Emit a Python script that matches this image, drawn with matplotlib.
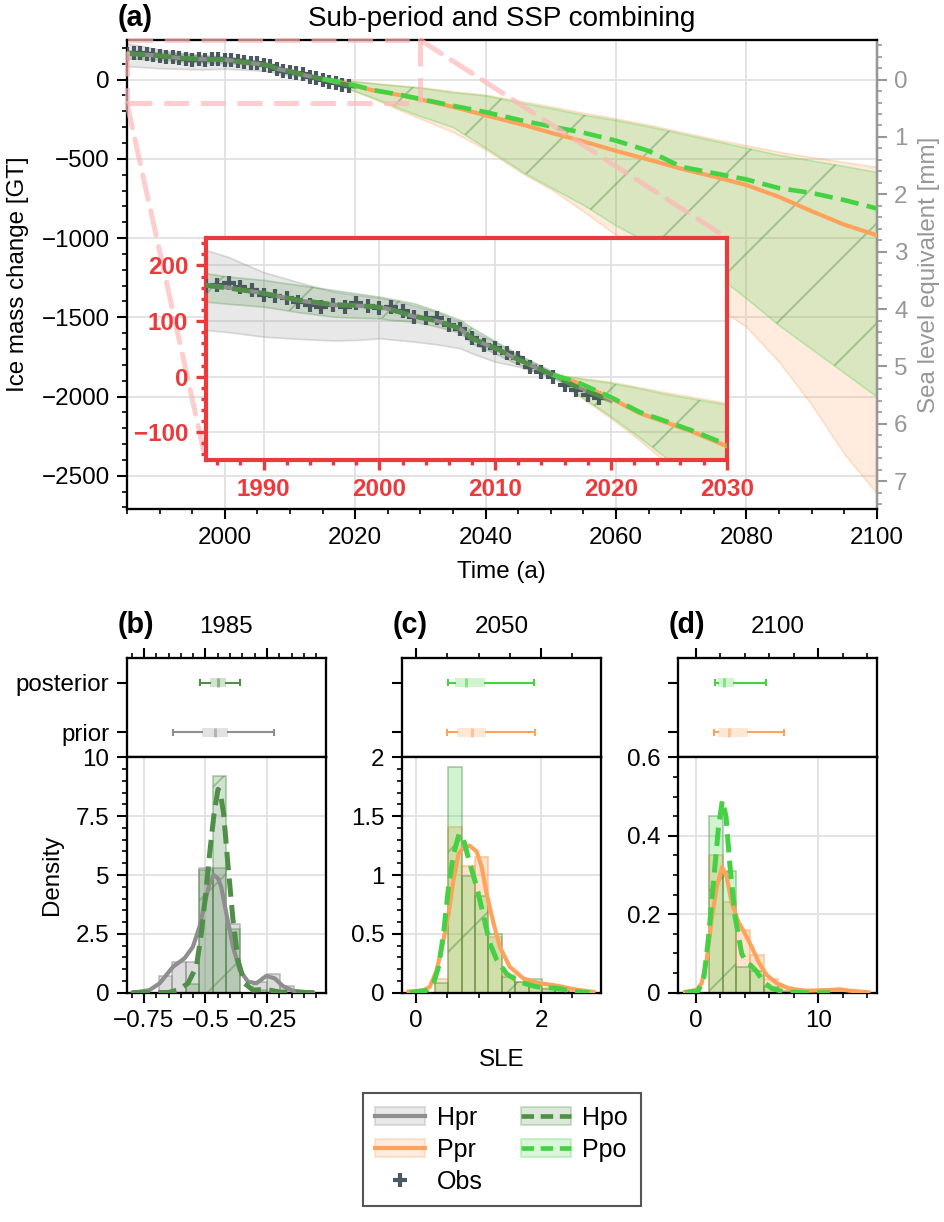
import numpy as np
import matplotlib
matplotlib.use("Agg")
import matplotlib.pyplot as plt
from matplotlib.colors import to_rgba
from matplotlib.lines import Line2D
from matplotlib.patches import Patch, Rectangle, ConnectionPatch
from matplotlib.ticker import MultipleLocator, FuncFormatter

# ── data: ice mass change time series [GT] ────────────────────
obs_years = list(range(1985, 2020))
obs_gt = [163, 165, 168, 161, 155, 147, 145, 141, 134, 129, 126, 129, 125,
          132, 128, 123, 126, 119, 108, 105, 105, 93, 86, 69, 57, 51, 42,
          33, 18, 9, 0, -15, -24, -33, -39]

years_hist = [1985, 1987, 1990, 1993, 1996, 1998, 2000, 2001, 2003, 2005,
              2007, 2008, 2010, 2012, 2015, 2017, 2020]
hpr_med = [165, 160, 150, 137, 129, 128, 125, 121, 108, 100, 86, 68, 51, 30, 3, -17, -42]
hpr_hi = [228, 215, 188, 170, 153, 147, 142, 138, 128, 116, 98, 82, 62, 38, 6, -14, -38]
hpr_lo = [84, 80, 72, 68, 65, 66, 69, 67, 63, 58, 51, 42, 27, 18, 0, -20, -46]
hpo_med = [164, 159, 150, 138, 130, 128, 125, 120, 109, 100, 87, 69, 52, 31, 3, -18, -43]
hpo_hi = [186, 180, 174, 165, 156, 150, 144, 140, 132, 118, 102, 88, 64, 40, 9, -10, -36]
hpo_lo = [135, 131, 126, 116, 108, 106, 105, 102, 99, 90, 79, 60, 42, 22, -3, -22, -46]

years_proj = [2015, 2017, 2020, 2022.5, 2025, 2027, 2030, 2035, 2040, 2046,
              2050, 2055, 2060, 2065, 2070, 2075, 2080, 2085, 2090, 2095, 2100]
ppr_med = [3, -10, -39, -66, -84, -99, -125, -172, -225, -288, -335, -390,
           -450, -505, -562, -612, -665, -740, -830, -915, -982]
ppr_hi = [3, -2, -10, -20, -30, -37, -48, -74, -95, -140, -170, -210, -245,
          -285, -330, -375, -415, -455, -490, -520, -551]
ppr_lo = [3, -32, -75, -115, -158, -195, -245, -330, -440, -600, -690, -830,
          -980, -1100, -1260, -1420, -1560, -1780, -2050, -2360, -2610]
ppo_med = [3, -9, -37, -64, -82, -97, -122, -165, -205, -262, -295, -335,
           -385, -450, -550, -590, -630, -685, -715, -760, -813]
ppo_hi = [3, -3, -12, -22, -33, -40, -51, -80, -100, -150, -180, -222, -255,
          -295, -340, -385, -430, -475, -510, -545, -583]
ppo_lo = [3, -30, -72, -110, -150, -185, -230, -300, -430, -590, -680, -790,
          -920, -1030, -1130, -1220, -1380, -1550, -1700, -1850, -2000]

GT_PER_MM = 362.0

# ── data: distributions (b) 1985, (c) 2050, (d) 2100 ─────────
panel_tags = ["(b)", "(c)", "(d)"]
panel_years = ["1985", "2050", "2100"]

b_edges = [-0.69, -0.635, -0.58, -0.525, -0.47, -0.415, -0.36, -0.305, -0.25, -0.195, -0.14]
b_hist_pri = [0.7, 1.3, 1.3, 5.3, 5.3, 2.9, 0.0, 0.45, 0.78, 0.28]
b_hist_pos = [0.0, 0.0, 0.35, 5.2, 9.2, 2.7, 0.0, 0.1, 0.0, 0.0]
b_kx_pri = [-0.795, -0.727, -0.686, -0.632, -0.585, -0.551, -0.524, -0.503, -0.483,
            -0.467, -0.449, -0.436, -0.415, -0.388, -0.361, -0.327, -0.293, -0.253,
            -0.219, -0.185, -0.144, -0.063]
b_ky_pri = [0.0, 0.11, 0.4, 1.1, 1.46, 1.95, 2.8, 3.8, 4.65, 5.0, 4.86, 4.5, 3.37,
            1.95, 0.96, 0.47, 0.4, 0.71, 0.61, 0.28, 0.08, 0.0]
b_kx_pos = [-0.80, -0.65, -0.605, -0.571, -0.537, -0.517, -0.499, -0.483, -0.465,
            -0.449, -0.440, -0.426, -0.409, -0.388, -0.368, -0.341, -0.307, -0.253,
            -0.199, -0.05]
b_ky_pos = [0.0, 0.01, 0.14, 0.4, 1.1, 2.5, 4.2, 5.9, 7.6, 8.64, 8.54, 7.6, 5.5,
            3.1, 1.39, 0.4, 0.11, 0.14, 0.03, 0.0]
b_box_pri = [-0.633, -0.513, -0.463, -0.410, -0.223]
b_box_pos = [-0.522, -0.482, -0.449, -0.415, -0.358]

c_edges = [0.30, 0.51, 0.73, 0.94, 1.15, 1.37, 1.58, 1.80, 2.01, 2.22, 2.44, 2.65]
c_hist_pri = [0.12, 1.41, 1.08, 1.15, 0.47, 0.15, 0.09, 0.06, 0.04, 0.02, 0.01]
c_hist_pos = [0.08, 1.92, 0.99, 0.82, 0.50, 0.13, 0.09, 0.12, 0.03, 0.02, 0.0]
c_kx_pri = [-0.12, 0.12, 0.22, 0.33, 0.44, 0.52, 0.60, 0.68, 0.76, 0.853, 0.97,
            1.05, 1.13, 1.24, 1.34, 1.50, 1.72, 1.98, 2.25, 2.52, 2.84]
c_ky_pri = [0.01, 0.02, 0.05, 0.19, 0.45, 0.67, 0.96, 1.18, 1.23, 1.25, 1.2, 1.07,
            0.84, 0.59, 0.39, 0.22, 0.12, 0.08, 0.06, 0.03, 0.006]
c_kx_pos = [-0.10, 0.17, 0.28, 0.36, 0.44, 0.52, 0.60, 0.69, 0.76, 0.86, 0.97,
            1.08, 1.18, 1.29, 1.45, 1.66, 1.93, 2.25, 2.57, 2.78]
c_ky_pos = [0.0, 0.02, 0.08, 0.22, 0.5, 0.9, 1.18, 1.35, 1.3, 1.1, 0.9, 0.65,
            0.42, 0.28, 0.16, 0.09, 0.05, 0.037, 0.008, 0.0]
c_box_pri = [0.49, 0.66, 0.896, 1.125, 1.91]
c_box_pos = [0.507, 0.63, 0.80, 1.11, 1.888]

d_edges = [1.04, 2.17, 3.30, 4.43, 5.56, 6.69, 7.82, 8.95, 10.08, 11.21, 12.34]
d_hist_pri = [0.35, 0.23, 0.16, 0.095, 0.035, 0.015, 0.005, 0.003, 0.006, 0.004]
d_hist_pos = [0.45, 0.31, 0.065, 0.055, 0.015, 0.005, 0.0, 0.0, 0.0, 0.0]
d_kx_pri = [-0.9, 0.05, 0.46, 0.87, 1.28, 1.69, 2.13, 2.51, 2.92, 3.46, 4.0, 4.55,
            5.1, 5.78, 6.6, 7.68, 9.05, 10.95, 11.77, 12.6, 14.1]
d_ky_pri = [0.002, 0.007, 0.024, 0.083, 0.185, 0.27, 0.32, 0.296, 0.228, 0.181,
            0.151, 0.117, 0.079, 0.045, 0.024, 0.01, 0.005, 0.007, 0.0085, 0.005, 0.001]
d_kx_pos = [-0.9, 0.19, 0.65, 1.0, 1.42, 1.83, 2.15, 2.45, 2.78, 3.19, 3.73, 4.14,
            4.47, 4.96, 5.5, 6.19, 7.14, 8.77, 10.95]
d_ky_pos = [0.0, 0.005, 0.04, 0.134, 0.279, 0.42, 0.49, 0.449, 0.321, 0.194, 0.1,
            0.075, 0.07, 0.054, 0.028, 0.011, 0.0025, 0.0, 0.0]
d_box_pri = [1.44, 1.83, 2.70, 4.22, 7.22]
d_box_pos = [1.55, 1.83, 2.32, 3.11, 5.75]

# ── style ─────────────────────────────────────────────────────
W, H, DPI = 944, 1222, 300
C_HPR = "#8e8e8e"
C_PPR = "#ffa35c"
C_HPO = "#4f8f48"
C_PPO = "#44d244"
C_OBS = "#4a5960"
C_RED = "#ec3a3c"
C_PINK = "#ffb8b8"
C_SLE = "#979797"
C_GRID = "#e2e2e2"
DASH = (4.4, 2.0)

plt.rcParams.update({
    "font.family": ["Liberation Sans", "DejaVu Sans"],
    "font.size": 5.8,
    "axes.linewidth": 0.55,
    "xtick.major.width": 0.5, "ytick.major.width": 0.5,
    "xtick.minor.width": 0.4, "ytick.minor.width": 0.4,
    "xtick.major.size": 2.5, "ytick.major.size": 2.5,
    "xtick.minor.size": 1.3, "ytick.minor.size": 1.3,
    "xtick.major.pad": 1.7, "ytick.major.pad": 1.7,
    "hatch.linewidth": 0.45,
    "lines.scale_dashes": False,
    "axes.unicode_minus": True,
})


def rect(l, t, r, b):
    """pixel box -> figure fraction [left, bottom, width, height]"""
    return [l / W, 1 - b / H, (r - l) / W, (b - t) / H]


def gfmt(v, pos):
    return f"{v:g}".replace("-", "\u2212")


def band(a, x, lo, hi, color, hatch=False):
    a.fill_between(x, lo, hi, facecolor=to_rgba(color, 0.2),
                   edgecolor=to_rgba(color, 0.3), lw=0.4, zorder=1)
    if hatch:
        a.fill_between(x, lo, hi, facecolor="none",
                       edgecolor=to_rgba(C_HPO, 0.42), hatch="/", lw=0, zorder=1)


def draw_series(a):
    band(a, years_hist, hpr_lo, hpr_hi, C_HPR)
    band(a, years_proj, ppr_lo, ppr_hi, C_PPR)
    band(a, years_hist, hpo_lo, hpo_hi, C_HPO, hatch=True)
    band(a, years_proj, ppo_lo, ppo_hi, C_PPO, hatch=True)
    a.plot(obs_years, obs_gt, ls="none", marker="+", ms=3.5, mew=1.0,
           color=C_OBS, zorder=3)
    a.plot(years_hist, hpr_med, color=C_HPR, lw=1.0, zorder=4)
    a.plot(years_proj, ppr_med, color=C_PPR, lw=1.0, zorder=4)
    a.plot(years_hist, hpo_med, color=C_HPO, lw=1.1, ls="--", dashes=DASH, zorder=5)
    a.plot(years_proj, ppo_med, color=C_PPO, lw=1.1, ls="--", dashes=DASH, zorder=5)


fig = plt.figure(figsize=(W / DPI, H / DPI), dpi=DPI)

# ── (a) main time series ──────────────────────────────────────
ax = fig.add_axes(rect(127, 40, 876.7, 509))
draw_series(ax)
ax.set_xlim(1985, 2100)
ax.set_ylim(-2710, 250)
ax.xaxis.set_major_locator(MultipleLocator(20))
ax.xaxis.set_minor_locator(MultipleLocator(5))
ax.yaxis.set_major_locator(MultipleLocator(500))
ax.yaxis.set_minor_locator(MultipleLocator(100))
ax.grid(True, which="major", color=C_GRID, lw=0.45)
ax.set_axisbelow(True)
ax.spines["right"].set_color(C_SLE)
ax.set_xlabel("Time (a)", labelpad=3)
ax.set_ylabel("Ice mass change [GT]", labelpad=3)

sec = ax.secondary_yaxis("right", functions=(lambda v: -v / GT_PER_MM,
                                             lambda m: -m * GT_PER_MM))
sec.yaxis.set_major_locator(MultipleLocator(1))
sec.yaxis.set_minor_locator(MultipleLocator(0.2))
sec.tick_params(which="both", colors=C_SLE)
sec.spines["right"].set_color(C_SLE)
fig.text(929 / W, 1 - 275 / H, "Sea level equivalent [mm]", color=C_SLE,
         rotation=90, ha="center", va="center")

# zoom indicator
ax.add_patch(Rectangle((1985, -150), 45, 400, fill=False, edgecolor=C_PINK,
                       lw=1.2, ls=(0, (6, 2.8)), alpha=0.7, zorder=6, clip_on=False))

# ── inset ─────────────────────────────────────────────────────
axi = fig.add_axes(rect(205.7, 237.7, 726.7, 460))
draw_series(axi)
axi.set_xlim(1985, 2030)
axi.set_ylim(-150, 250)
axi.xaxis.set_major_locator(MultipleLocator(10))
axi.xaxis.set_minor_locator(MultipleLocator(2))
axi.yaxis.set_major_locator(MultipleLocator(100))
axi.yaxis.set_minor_locator(MultipleLocator(20))
axi.grid(True, which="major", color=C_GRID, lw=0.45)
axi.set_axisbelow(True)
for s in axi.spines.values():
    s.set_color(C_RED)
    s.set_linewidth(1.0)
axi.tick_params(which="both", colors=C_RED, width=0.8)
for lbl in axi.get_xticklabels() + axi.get_yticklabels():
    lbl.set_fontweight("bold")

for xa, xb in [((1985, -150), (0, 0)), ((2030, 250), (1, 1))]:
    con = ConnectionPatch(xyA=xa, coordsA=ax.transData, xyB=xb,
                          coordsB=axi.transAxes, color=C_PINK, lw=1.2,
                          ls=(0, (6, 2.8)), alpha=0.7, zorder=6)
    ax.add_artist(con)

fig.text(118 / W, 1 - 26.5 / H, "(a)", fontsize=6.9, fontweight="bold", va="baseline")
fig.text(501.8 / W, 1 - 26.5 / H, "Sub-period and SSP combining",
         fontsize=6.7, ha="center", va="baseline")

# ── (b)-(d) distributions ─────────────────────────────────────
panels = [
    (126.7, (-0.82, -0.01), (0, 10), 0.25, 0.05, 2.5, 0.5,
     b_edges, b_hist_pri, b_hist_pos, b_kx_pri, b_ky_pri, b_kx_pos, b_ky_pos,
     b_box_pri, b_box_pos, C_HPR, C_HPO),
    (401.7, (-0.23, 2.96), (0, 2), 2, 0.5, 0.5, 0.1,
     c_edges, c_hist_pri, c_hist_pos, c_kx_pri, c_ky_pri, c_kx_pos, c_ky_pos,
     c_box_pri, c_box_pos, C_PPR, C_PPO),
    (677.7, (-1.5, 14.8), (0, 0.6), 10, 2, 0.2, 0.05,
     d_edges, d_hist_pri, d_hist_pos, d_kx_pri, d_ky_pri, d_kx_pos, d_ky_pos,
     d_box_pri, d_box_pos, C_PPR, C_PPO),
]

for i, (left, xlim, ylim, xmaj, xmin, ymaj, ymin, edges, hpri, hpos,
        kxa, kya, kxb, kyb, bpri, bpos, cpri, cpos) in enumerate(panels):
    right = left + 199.3
    axb = fig.add_axes(rect(left, 657.7, right, 757.3))
    axd = fig.add_axes(rect(left, 757.3, right, 992.7))

    widths = np.diff(edges)
    axd.bar(edges[:-1], hpri, width=widths, align="edge",
            facecolor=to_rgba(cpri, 0.3), edgecolor=to_rgba(cpri, 0.55), lw=0.4, zorder=2)
    axd.bar(edges[:-1], hpos, width=widths, align="edge",
            facecolor=to_rgba(cpos, 0.25), edgecolor=to_rgba(C_HPO, 0.45), lw=0.4,
            hatch="/", zorder=2)
    axd.plot(kxa, kya, color=cpri, lw=1.0, zorder=3)
    axd.plot(kxb, kyb, color=cpos, lw=1.2, ls="--", dashes=DASH, zorder=4)

    axd.set_xlim(*xlim)
    axd.set_ylim(*ylim)
    axd.xaxis.set_major_locator(MultipleLocator(xmaj))
    axd.xaxis.set_minor_locator(MultipleLocator(xmin))
    axd.yaxis.set_major_locator(MultipleLocator(ymaj))
    axd.yaxis.set_minor_locator(MultipleLocator(ymin))
    axd.xaxis.set_major_formatter(FuncFormatter(gfmt))
    axd.yaxis.set_major_formatter(FuncFormatter(gfmt))
    axd.grid(True, which="major", color=C_GRID, lw=0.45)
    axd.set_axisbelow(True)

    for pos, st, c in [(0, bpri, cpri), (1, bpos, cpos)]:
        stats = [dict(whislo=st[0], q1=st[1], med=st[2], q3=st[3], whishi=st[4], fliers=[])]
        axb.bxp(stats, positions=[pos], vert=False, widths=0.19, patch_artist=True,
                showfliers=False, manage_ticks=False, capwidths=0.1,
                boxprops=dict(facecolor=to_rgba(c, 0.25), edgecolor="none", lw=0),
                medianprops=dict(color=to_rgba(c, 0.55), lw=0.7),
                whiskerprops=dict(color=c, lw=0.5),
                capprops=dict(color=c, lw=0.5))
    axb.set_xlim(*xlim)
    axb.set_ylim(-0.5, 1.5)
    axb.xaxis.set_major_locator(MultipleLocator(xmaj))
    axb.xaxis.set_minor_locator(MultipleLocator(xmin))
    axb.tick_params(axis="x", which="both", top=True, bottom=False,
                    labeltop=False, labelbottom=False)
    axb.set_yticks([0, 1])
    if i == 0:
        axb.set_yticklabels(["prior", "posterior"])
        axd.set_ylabel("Density", labelpad=3)
    else:
        axb.set_yticklabels([])
    if i == 1:
        axd.set_xlabel("SLE", labelpad=4)

    fig.text((left - 9) / W, 1 - 633.3 / H, panel_tags[i], fontsize=6.9,
             fontweight="bold", va="baseline")
    fig.text((left + right) / 2 / W, 1 - 633.3 / H, panel_years[i],
             ha="center", va="baseline")

# ── legend ────────────────────────────────────────────────────
def leg_handle(c, dashed):
    p = Patch(facecolor=to_rgba(c, 0.2), edgecolor=to_rgba(c, 0.3), lw=0.4)
    if dashed:
        ln = Line2D([], [], color=c, lw=1.1, ls="--", dashes=(3.0, 1.6))
    else:
        ln = Line2D([], [], color=c, lw=1.0)
    return (p, ln)


handles = [leg_handle(C_HPR, False), leg_handle(C_PPR, False),
           Line2D([], [], ls="none", marker="+", ms=3.4, mew=1.0, color=C_OBS),
           leg_handle(C_HPO, True), leg_handle(C_PPO, True)]
labels = ["Hpr", "Ppr", "Obs", "Hpo", "Ppo"]
leg = fig.legend(handles, labels, ncol=2, loc="upper center",
                 bbox_to_anchor=(501.7 / W, 1 - 1093.3 / H), fontsize=6.0,
                 frameon=True, fancybox=False, edgecolor="#555555", framealpha=1,
                 handlelength=2.0, handleheight=0.7, handletextpad=0.47,
                 columnspacing=1.5, labelspacing=0.32, borderpad=0.5,
                 borderaxespad=0)
leg.get_frame().set_linewidth(0.5)

fig.savefig("out.png", dpi=DPI)
